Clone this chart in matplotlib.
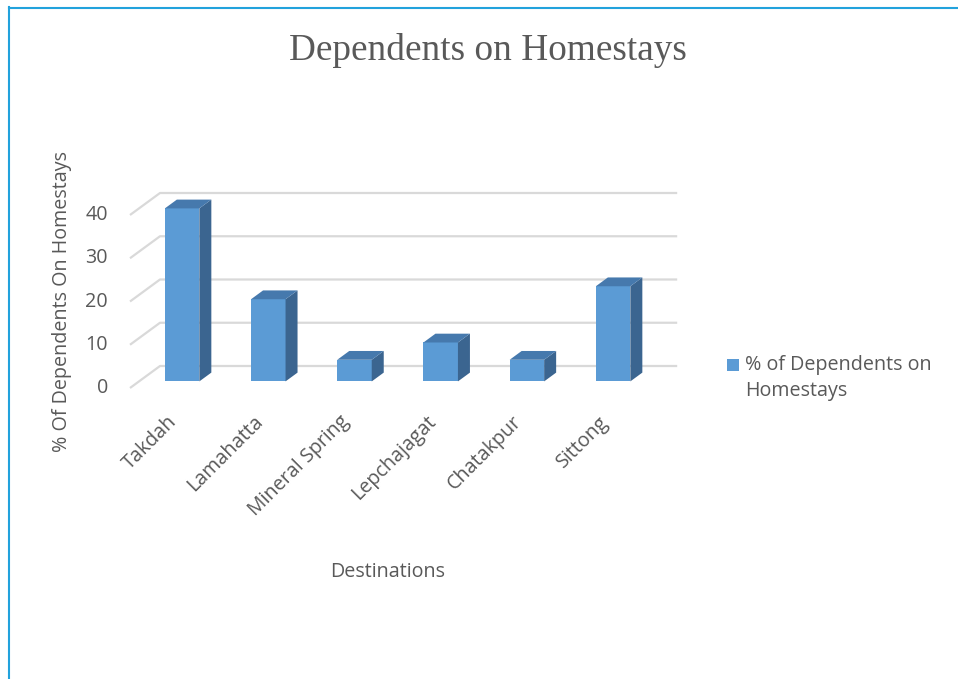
import matplotlib
matplotlib.use("Agg")
import matplotlib.pyplot as plt
from matplotlib.patches import Polygon, Rectangle
from matplotlib.lines import Line2D
import numpy as np

categories = ["Takdah", "Lamahatta", "Mineral Spring", "Lepchajagat", "Chatakpur", "Sittong"]
values = [40, 19, 5, 9, 5, 22]
yticks = [0, 10, 20, 30, 40]
series_name = "% of Dependents on\nHomestays"
title = "Dependents on Homestays"
xlabel = "Destinations"
ylabel = "% Of Dependents On Homestays"

W, H = 958, 679
fig = plt.figure(figsize=(W / 100, H / 100), dpi=100)
fig.patch.set_facecolor("white")

SANS = ["Open Sans", "DejaVu Sans"]
TXT = "#595959"
FS = 14.2

# pixel geometry of the pseudo-3D plot
X0, SLOT, Y0, PPU = 160, 86.2, 366, 4.325
DX, DY = -30 / SLOT, -22 / PPU
ax_l, ax_r, ax_t, ax_b = 60, 720, 150, 440
ax = fig.add_axes([ax_l / W, 1 - ax_b / H, (ax_r - ax_l) / W, (ax_b - ax_t) / H])
ax.set_xlim((ax_l - X0) / SLOT, (ax_r - X0) / SLOT)
ax.set_ylim((Y0 - ax_b) / PPU, (Y0 - ax_t) / PPU)
ax.axis("off")

n = len(categories)
grid_c = "#d9d9d9"
for v in yticks:
    ax.plot([DX, 0, n], [v + DY, v, v], color=grid_c, lw=1.6, zorder=1,
            solid_capstyle="butt")
    ax.text(DX - 22 / SLOT, v + DY, str(v), ha="right", va="center",
            fontsize=FS, color=TXT, family=SANS)

front_c, side_c, top_c = "#5b9bd5", "#3b6590", "#4679ad"
f, b, w = 0.7, 0.3, 0.4
centers = np.arange(n) + 0.5
fx = centers + f * DX
bx = centers + b * DX
fy0, by0 = f * DY, b * DY
vals = np.array(values, dtype=float)
bars = ax.bar(fx, vals, width=w, bottom=fy0, color=front_c, edgecolor="none", zorder=3)
for i, v in enumerate(vals):
    side = [(fx[i] + w / 2, fy0), (fx[i] + w / 2, fy0 + v),
            (bx[i] + w / 2, by0 + v), (bx[i] + w / 2, by0)]
    top = [(fx[i] - w / 2, fy0 + v), (fx[i] + w / 2, fy0 + v),
           (bx[i] + w / 2, by0 + v), (bx[i] - w / 2, by0 + v)]
    ax.add_patch(Polygon(side, closed=True, facecolor=side_c, edgecolor="none", zorder=3))
    ax.add_patch(Polygon(top, closed=True, facecolor=top_c, edgecolor="none", zorder=3))

for i, cat in enumerate(categories):
    ax.text(centers[i] + DX + 1 / SLOT, DY - 31 / PPU, cat, rotation=45,
            rotation_mode="anchor", ha="right", va="center",
            fontsize=FS, color=TXT, family=SANS)

fig.text(388 / W, 1 - 572 / H, xlabel, ha="center", va="center",
         fontsize=FS, color=TXT, family=SANS)
fig.text(62 / W, 1 - 302 / H, ylabel, ha="center", va="center", rotation=90,
         fontsize=FS, color=TXT, family=SANS)
fig.text(488 / W, 1 - 50 / H, title, ha="center", va="center",
         fontsize=26.8, color=TXT, family=["Liberation Serif", "DejaVu Serif"])

# legend
fig.add_artist(Rectangle((727 / W, 1 - 371 / H), 12 / W, 12 / H,
                         transform=fig.transFigure, facecolor=front_c, edgecolor="none"))
fig.text(745 / W, 1 - 378 / H, series_name, ha="left", va="center",
         fontsize=FS, color=TXT, family=SANS, linespacing=1.45)

# border lines
border = "#22a2dc"
fig.add_artist(Line2D([8.5 / W, 8.5 / W], [0, 1 - 7 / H], color=border, lw=1.5,
                      transform=fig.transFigure))
fig.add_artist(Line2D([8.5 / W, 1], [1 - 7.5 / H, 1 - 7.5 / H], color=border, lw=1.5,
                      transform=fig.transFigure))

fig.savefig("out.png", dpi=100, facecolor="white")
